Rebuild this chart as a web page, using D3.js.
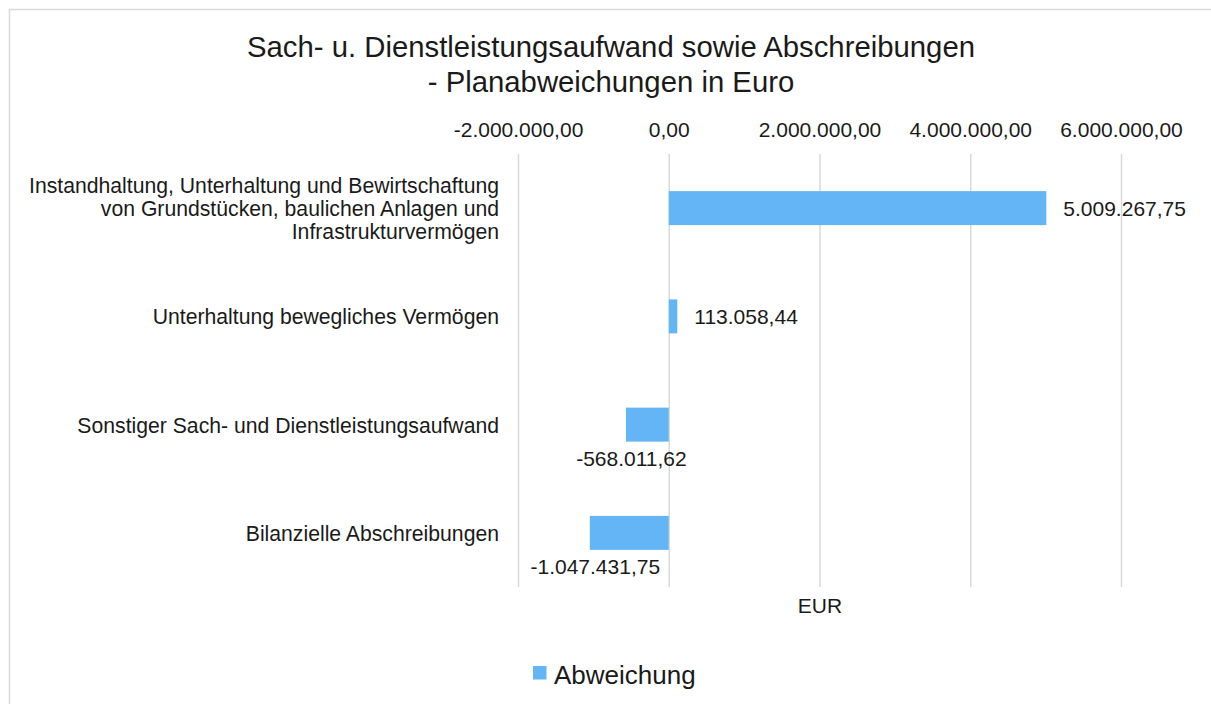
<!DOCTYPE html>
<html>
<head>
<meta charset="utf-8">
<script src="https://cdn.jsdelivr.net/npm/d3@7"></script>
<style>
  html, body { margin: 0; padding: 0; background: #fff; }
  svg { display: block; font-family: "Liberation Sans", Arial, Helvetica, sans-serif; }
</style>
</head>
<body>
<svg id="chart" width="1211" height="704"></svg>
<script>
const titleLines = ["Sach- u. Dienstleistungsaufwand sowie Abschreibungen", "- Planabweichungen in Euro"];
const categories = [
  "Instandhaltung, Unterhaltung und Bewirtschaftung\nvon Grundstücken, baulichen Anlagen und\nInfrastrukturvermögen",
  "Unterhaltung bewegliches Vermögen",
  "Sonstiger Sach- und Dienstleistungsaufwand",
  "Bilanzielle Abschreibungen"
];
const values = [5009267.75, 113058.44, -568011.62, -1047431.75];
const tickValues = [-2000000, 0, 2000000, 4000000, 6000000];
const seriesName = "Abweichung";
const axisTitle = "EUR";

const locale = d3.formatLocale({decimal: ",", thousands: ".", grouping: [3], currency: ["", " €"], minus: "-"});
const fmt = locale.format(",.2f");

const W = 1211, H = 704;
const plot = {left: 518, right: 1121, top: 154, bottom: 587};
const barColor = "#64b5f6";
const gridColor = "#d9d9d9";
const textColor = "#1a1a1a";

const svg = d3.select("#chart");

// chart border (extends beyond visible area on right/bottom)
svg.append("rect").attr("x", 9.5).attr("y", 9.5).attr("width", W + 20).attr("height", H + 20)
  .attr("fill", "#fff").attr("stroke", gridColor).attr("stroke-width", 1.5);

// title
svg.append("text").attr("x", 611).attr("y", 57).attr("text-anchor", "middle")
  .attr("font-size", 29.3).attr("fill", textColor)
  .selectAll("tspan").data(titleLines).join("tspan")
  .attr("x", 611).attr("dy", (d, i) => i === 0 ? 0 : 35).text(d => d);

const x = d3.scaleLinear().domain([tickValues[0], tickValues[tickValues.length - 1]]).range([plot.left, plot.right]);
const y = d3.scaleBand().domain(categories).range([plot.top, plot.bottom]).paddingInner(0.686).paddingOuter(0.343);

// axis with gridlines
const axis = d3.axisTop(x).tickValues(tickValues).tickFormat(fmt)
  .tickSizeInner(-(plot.bottom - plot.top)).tickSizeOuter(0).tickPadding(17);
const gAxis = svg.append("g").attr("transform", `translate(0,${plot.top})`).call(axis);
gAxis.select(".domain").remove();
gAxis.selectAll(".tick line").attr("stroke", gridColor).attr("stroke-width", 1.5);
gAxis.selectAll(".tick text").attr("font-size", 21).attr("fill", textColor)
  .attr("font-family", "Liberation Sans, Arial, sans-serif");

// bars
svg.append("g").selectAll("rect").data(values).join("rect")
  .attr("x", d => x(Math.min(0, d)))
  .attr("width", d => Math.abs(x(d) - x(0)))
  .attr("y", (d, i) => y(categories[i]))
  .attr("height", y.bandwidth())
  .attr("fill", barColor);

// data labels
svg.append("g").selectAll("text").data(values).join("text")
  .attr("font-size", 21).attr("fill", textColor)
  .attr("text-anchor", d => d >= 0 ? "start" : "middle")
  .attr("x", d => d >= 0 ? x(d) + 17 : x(d) + 5.5)
  .attr("y", (d, i) => d >= 0 ? y(categories[i]) + y.bandwidth() / 2 + 8 : y(categories[i]) + y.bandwidth() + 24)
  .text(d => fmt(d));

// category labels
const catG = svg.append("g").selectAll("text").data(categories).join("text")
  .attr("font-size", 21.2).attr("fill", textColor).attr("text-anchor", "end")
  .attr("y", d => y(d) + y.bandwidth() / 2 + 8);
catG.each(function(d) {
  const lines = d.split("\n");
  const t = d3.select(this);
  const lh = 23;
  lines.forEach((ln, i) => {
    t.append("tspan").attr("x", 499)
      .attr("dy", i === 0 ? -(lines.length - 1) * lh / 2 : lh).text(ln);
  });
});

// axis title
svg.append("text").attr("x", (plot.left + plot.right) / 2 + 0.5).attr("y", 613)
  .attr("text-anchor", "middle").attr("font-size", 21).attr("fill", textColor).text(axisTitle);

// legend
const lg = svg.append("g");
lg.append("rect").attr("x", 533).attr("y", 666).attr("width", 13.5).attr("height", 13.5).attr("fill", barColor);
lg.append("text").attr("x", 554).attr("y", 684).attr("font-size", 26).attr("fill", textColor).text(seriesName);
</script>
</body>
</html>
